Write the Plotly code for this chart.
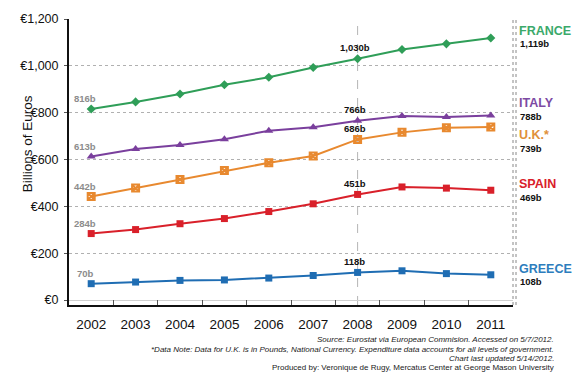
import plotly.graph_objects as go

years = [2002, 2003, 2004, 2005, 2006, 2007, 2008, 2009, 2010, 2011]
france = [816, 846, 880, 919, 951, 993, 1030, 1070, 1094, 1119]
italy = [613, 645, 662, 687, 723, 738, 766, 786, 782, 788]
uk = [442, 478, 515, 553, 586, 615, 686, 716, 736, 739]
spain = [284, 301, 326, 348, 378, 411, 451, 483, 478, 469]
greece = [70, 77, 84, 86, 94, 105, 118, 125, 113, 108]

names = ["FRANCE", "ITALY", "U.K.*", "SPAIN", "GREECE"]
series = [france, italy, uk, spain, greece]
colors = ["#2f9e58", "#7a3f9d", "#e8892f", "#d9202a", "#1f6db3"]
label_colors = ["#3aa96a", "#7d4aa3", "#e0903a", "#d9202a", "#2d7dbd"]
symbols = ["diamond", "triangle-up", "square-x-open", "square", "square"]
sizes = [7, 8, 7, 7, 7]

y_ticks = [0, 200, 400, 600, 800, 1000, 1200]
y_ticktext = ["€0", "€200", "€400", "€600", "€800", "€1,000", "€1,200"]

FONT = "Liberation Sans, Arial, sans-serif"

W, H = 579, 381
L, R, T, B = 69, 66, 14, 76
pw, ph = W - L - R, H - T - B


def px_to_paper_x(px):
    return (px - L) / pw


def px_to_paper_y(py):
    return (H - B - py) / ph


fig = go.Figure()
for s, c, sym, sz in zip(series, colors, symbols, sizes):
    fig.add_trace(go.Scatter(
        x=years, y=s, mode="lines+markers",
        line=dict(color=c, width=2),
        marker=dict(symbol=sym, size=sz, color=c,
                    line=dict(color=c, width=2 if sym.endswith("open") else 0)),
        showlegend=False, hoverinfo="skip"))

annotations = []
# Left (2002) gray value labels
for s in series:
    annotations.append(dict(x=years[0], y=s[0], xref="x", yref="y",
                            text=f"{s[0]}b", showarrow=False,
                            xshift=-6, yshift=10,
                            font=dict(family=FONT, size=9.5, color="#8c8c8c", weight="bold")))
# 2008 black labels
i08 = years.index(2008)
for s in series:
    v = s[i08]
    annotations.append(dict(x=2008, y=v, xref="x", yref="y",
                            text=f"{v:,}b", showarrow=False,
                            xshift=-3, yshift=11,
                            font=dict(family=FONT, size=9.5, color="#111", weight="bold")))
# Right side labels (name and final value)
name_y = [1150, 843, 705, 495, 134]
val_y = [1095, 785, 646, 436, 80]
for n, s, lc, ny, vy in zip(names, series, label_colors, name_y, val_y):
    annotations.append(dict(x=px_to_paper_x(517), y=ny, xref="paper", yref="y", xanchor="left",
                            text=n, showarrow=False,
                            font=dict(family=FONT, size=12.5, color=lc, weight="bold")))
    annotations.append(dict(x=px_to_paper_x(518), y=vy, xref="paper", yref="y", xanchor="left",
                            text=f"{s[-1]:,}b", showarrow=False,
                            font=dict(family=FONT, size=9.5, color="#111", weight="bold")))

# Y axis title
annotations.append(dict(x=px_to_paper_x(18), y=px_to_paper_y(141), xref="paper", yref="paper",
                        text="Billions of Euros", showarrow=False, textangle=-90,
                        font=dict(family=FONT, size=13.5, color="#111")))

# Footer
footer = [
    ("<i>Source: Eurostat via European Commision. Accessed on 5/7/2012.</i>", 340),
    ("<i>*Data Note: Data for U.K. is in Pounds, National Currency. Expenditure data accounts for all levels of government.</i>", 350),
    ("<i>Chart last updated 5/14/2012.</i>", 359),
    ("Produced by: Veronique de Rugy, Mercatus Center at George Mason University", 369),
]
for txt, py in footer:
    annotations.append(dict(x=px_to_paper_x(556), y=px_to_paper_y(py), xref="paper", yref="paper",
                            xanchor="right", yanchor="middle", text=txt, showarrow=False,
                            font=dict(family=FONT, size=8, color="#222")))

shapes = [
    # dashed line at 2008
    dict(type="line", xref="x", yref="paper", x0=2008, x1=2008, y0=0, y1=1,
         line=dict(color="#b5b5b5", width=1, dash="dash"), layer="below"),
    # double dotted right border
    dict(type="line", xref="paper", yref="paper", x0=1, x1=1, y0=0, y1=1,
         line=dict(color="#888", width=1, dash="dot")),
    dict(type="line", xref="paper", yref="paper", x0=px_to_paper_x(516), x1=px_to_paper_x(516), y0=0, y1=1,
         line=dict(color="#888", width=1, dash="dot")),
]

fig.update_layout(
    width=W, height=H,
    margin=dict(l=L, r=R, t=T, b=B, pad=0),
    paper_bgcolor="white", plot_bgcolor="white",
    font=dict(family=FONT, color="#111"),
    annotations=annotations, shapes=shapes,
    xaxis=dict(range=[2001.5, 2011.5], tickvals=years, ticktext=[str(y) for y in years],
               ticks="", showgrid=False, zeroline=False,
               showline=True, linecolor="#111", linewidth=2,
               tickfont=dict(family=FONT, size=13.5, color="#111"),
               ticklabelstandoff=6,
               minor=dict(tickvals=[y + 0.5 for y in years[:-1]], ticks="inside",
                          ticklen=5, tickcolor="#555", tickwidth=1, showgrid=False)),
    yaxis=dict(range=[-21, 1200], tickvals=y_ticks, ticktext=y_ticktext,
               ticks="outside", ticklen=3, tickcolor="#555",
               showgrid=True, gridcolor="#b0b0b0", griddash="dot", gridwidth=1,
               zeroline=True, zerolinecolor="#d0d0d0", zerolinewidth=1,
               showline=True, linecolor="#111", linewidth=2,
               tickfont=dict(family=FONT, size=12.5, color="#111"),
               ticklabelstandoff=3),
)

fig.write_html("out.html", config={"displayModeBar": False},
               post_script="document.body.style.margin='0px';")
